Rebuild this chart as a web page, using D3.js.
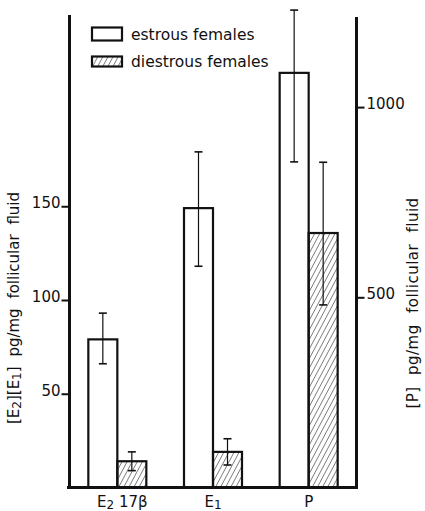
<!DOCTYPE html>
<html>
<head>
<meta charset="utf-8">
<script src="https://cdn.jsdelivr.net/npm/d3@7"></script>
<style>
  body { margin: 0; background: #fff; }
  text { font-family: "DejaVu Sans", sans-serif; fill: #111; }
</style>
</head>
<body>
<div id="chart"></div>
<script>
// values
let categories = ["E2", "E1", "P"];
let axisOf = ["left", "left", "right"];
let series = ["estrous females", "diestrous females"];

let estrousMean = [79, 149, 1090];
let estrousHi = [93, 179, 1255];
let estrousLo = [66, 118, 856];

let diestrousMean = [14, 19, 669];
let diestrousHi = [19, 26, 855];
let diestrousLo = [9, 12, 480];

let leftTicks = [50, 100, 150];
let rightTicks = [500, 1000];

let svgWidth = 425;
let svgHeight = 511;
let base = 487.5;

let svg = d3.select("#chart")
    .append("svg")
    .attr("width", svgWidth)
    .attr("height", svgHeight);

// hatch pattern for diestrous bars
let defs = svg.append("defs");
defs.append("pattern")
    .attr("id", "hatch")
    .attr("patternUnits", "userSpaceOnUse")
    .attr("width", 4.5)
    .attr("height", 4.5)
    .attr("patternTransform", "rotate(28)")
    .append("line")
    .attr("x1", 0).attr("y1", -1)
    .attr("x2", 0).attr("y2", 6)
    .attr("stroke", "#111")
    .attr("stroke-width", 1);

// scales
let x = d3.scaleBand()
    .domain(categories)
    .range([69.5, 356.5]);

let sub = d3.scaleBand()
    .domain(series)
    .range([-29, 29]);

let yL = d3.scaleLinear().domain([0, 252]).range([base, 15]);
let yR = d3.scaleLinear().domain([0, 1250]).range([base, 12]);

let rows = [];
categories.forEach(function(c, i) {
    rows.push({cat: c, s: series[0], v: estrousMean[i], hi: estrousHi[i], lo: estrousLo[i], ax: axisOf[i]});
    rows.push({cat: c, s: series[1], v: diestrousMean[i], hi: diestrousHi[i], lo: diestrousLo[i], ax: axisOf[i]});
});

let yOf = d => (d.ax == "left" ? yL : yR);
let cx = d => x(d.cat) + x.bandwidth() / 2;

// bars
svg.append("g").selectAll("rect")
    .data(rows)
    .enter()
    .append("rect")
    .attr("x", d => cx(d) + sub(d.s))
    .attr("y", d => yOf(d)(d.v))
    .attr("width", sub.bandwidth())
    .attr("height", d => base - yOf(d)(d.v))
    .attr("fill", d => d.s == series[0] ? "#fff" : "url(#hatch)")
    .attr("stroke", "#111")
    .attr("stroke-width", 2.2);

// error bars
let err = svg.append("g")
    .attr("stroke", "#111");

err.selectAll("line.stem")
    .data(rows)
    .enter()
    .append("line")
    .attr("class", "stem")
    .attr("x1", d => cx(d) + sub(d.s) + sub.bandwidth() / 2)
    .attr("x2", d => cx(d) + sub(d.s) + sub.bandwidth() / 2)
    .attr("y1", d => yOf(d)(d.hi))
    .attr("y2", d => yOf(d)(d.lo))
    .attr("stroke-width", 1.2);

["hi", "lo"].forEach(function(k) {
    err.selectAll("line.cap" + k)
        .data(rows)
        .enter()
        .append("line")
        .attr("class", "cap" + k)
        .attr("x1", d => cx(d) + sub(d.s) + sub.bandwidth() / 2 - 4)
        .attr("x2", d => cx(d) + sub(d.s) + sub.bandwidth() / 2 + 4)
        .attr("y1", d => yOf(d)(d[k]))
        .attr("y2", d => yOf(d)(d[k]))
        .attr("stroke-width", 1.6);
});

// axes
let leftAxis = d3.axisLeft(yL)
    .tickValues(leftTicks)
    .tickFormat(d3.format("d"))
    .tickSize(8)
    .tickPadding(1)
    .tickSizeOuter(0);

let gl = svg.append("g")
    .attr("transform", "translate(69.5,0)")
    .call(leftAxis);

let rightAxis = d3.axisRight(yR)
    .tickValues(rightTicks)
    .tickFormat(d3.format("d"))
    .tickSize(8)
    .tickPadding(2)
    .tickSizeOuter(0);

let gr = svg.append("g")
    .attr("transform", "translate(356.5,0)")
    .call(rightAxis);

[gl, gr].forEach(function(g) {
    g.select(".domain").remove();
    g.selectAll(".tick line").attr("stroke", "#111").attr("stroke-width", 2);
    g.selectAll(".tick text")
        .attr("dy", "0.1em")
        .attr("font-size", "15px")
        .attr("fill", "#111");
});

// axis lines and baseline
svg.append("line")
    .attr("x1", 69.5).attr("x2", 69.5)
    .attr("y1", 15).attr("y2", base + 1.5)
    .attr("stroke", "#111").attr("stroke-width", 3);

svg.append("line")
    .attr("x1", 356.5).attr("x2", 356.5)
    .attr("y1", 17).attr("y2", base + 1.5)
    .attr("stroke", "#111").attr("stroke-width", 3);

svg.append("line")
    .attr("x1", 67).attr("x2", 358)
    .attr("y1", base).attr("y2", base)
    .attr("stroke", "#111").attr("stroke-width", 3);

// category labels
let xl = svg.append("g");
categories.forEach(function(c, i) {
    let t = xl.append("text")
        .attr("x", x(c) + x.bandwidth() / 2 + (c == "E2" ? 5 : 0))
        .attr("y", 507)
        .attr("text-anchor", "middle")
        .attr("font-size", "15px");
    t.append("tspan").text(c.charAt(0));
    if (c.length > 1) {
        t.append("tspan").attr("font-size", "12px").attr("dy", 2).text(c.charAt(1));
    }
    if (c == "E2") {
        t.append("tspan").attr("dy", -2).text(" 17\u03b2");
    }
});

// legend
let legend = svg.append("g");
legend.append("rect")
    .attr("x", 92).attr("y", 27.5)
    .attr("width", 30).attr("height", 13)
    .attr("fill", "#fff").attr("stroke", "#111").attr("stroke-width", 2.2);
legend.append("rect")
    .attr("x", 92).attr("y", 56.5)
    .attr("width", 30).attr("height", 10)
    .attr("fill", "url(#hatch)").attr("stroke", "#111").attr("stroke-width", 2.2);
legend.append("text")
    .attr("x", 131).attr("y", 39.5)
    .attr("font-size", "15.5px")
    .text(series[0]);
legend.append("text")
    .attr("x", 131).attr("y", 66.5)
    .attr("font-size", "15.5px")
    .text(series[1]);

// y axis titles
let lt = svg.append("text")
    .attr("transform", "translate(19,308) rotate(-90)")
    .attr("text-anchor", "middle")
    .attr("font-size", "15px")
    .attr("word-spacing", "5px");
lt.append("tspan").text("[E");
lt.append("tspan").attr("font-size", "12px").attr("dy", 2).text("2");
lt.append("tspan").attr("dy", -2).text("][E");
lt.append("tspan").attr("font-size", "12px").attr("dy", 2).text("1");
lt.append("tspan").attr("dy", -2).text("] pg/mg follicular fluid");

svg.append("text")
    .attr("transform", "translate(418,303) rotate(-90)")
    .attr("text-anchor", "middle")
    .attr("font-size", "15px")
    .attr("word-spacing", "6px")
    .attr("letter-spacing", "0.5px")
    .text("[P] pg/mg follicular fluid");
</script>
</body>
</html>
